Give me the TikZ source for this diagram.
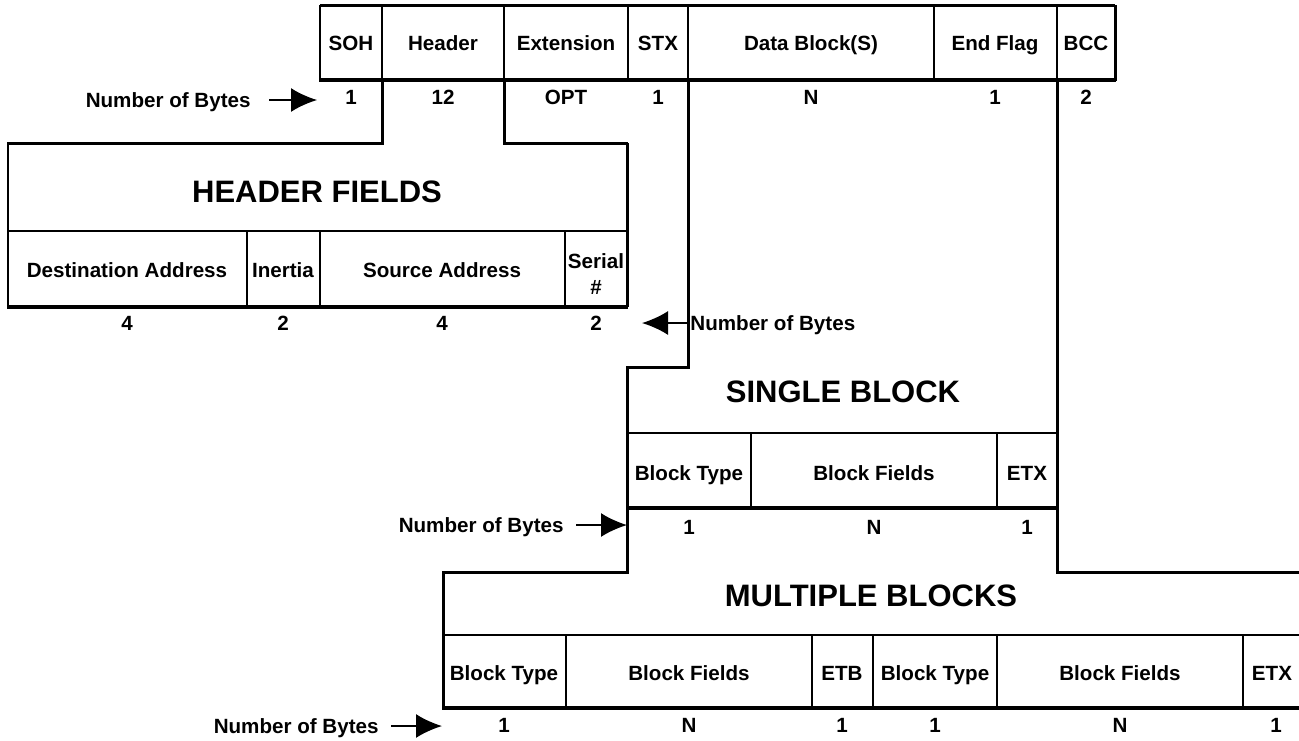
\documentclass[tikz,border=0pt]{standalone}
\usepackage{fontspec}
\setmainfont{Liberation Sans}
\usetikzlibrary{arrows.meta}
\tikzset{lbl/.style = {font=\fontsize{10.3}{13}\selectfont\bfseries, inner sep=1pt, text height=0.72em, text depth=0pt}}
\tikzset{ttl/.style = {font=\fontsize{15.5}{18}\selectfont\bfseries, inner sep=0pt}}
\tikzset{fieldline/.style = {line width=1pt}}
\tikzset{frameline/.style = {line width=1.5pt}}
\tikzset{heavy/.style = {line width=2pt}}
\tikzset{bytesarrow/.style = {line width=1pt, -{Latex[length=13pt,width=12pt]}}}

\begin{document}
\begin{tikzpicture}[x=0.5pt,y=-0.5pt]
\useasboundingbox (0,0) rectangle (1299,740);

% message frame
\draw[frameline] (320,5) -- (1115,5);
\draw[fieldline] (320,5) -- (320,80);
\foreach \x in {382,504,628,688,934,1057}
  \draw[fieldline] (\x,5) -- (\x,80);
\draw[frameline] (1115,5) -- (1115,81);
\draw[heavy] (319,80) -- (1116,80);

\node[lbl] (soh) at (351,43) {SOH};
\node[lbl] (hdr) at (443,43) {Header};
\node[lbl] (ext) at (566,43) {Extension};
\node[lbl] (stx) at (658,43) {STX};
\node[lbl] (data) at (811,43) {Data Block(S)};
\node[lbl] (endflag) at (995,43) {End Flag};
\node[lbl] (bcc) at (1086,43) {BCC};

\node[lbl] at (351,97) {1};
\node[lbl] at (443,97) {12};
\node[lbl] at (566,97) {OPT};
\node[lbl] at (658,97) {1};
\node[lbl] at (811,97) {N};
\node[lbl] at (995,97) {1};
\node[lbl] at (1086,97) {2};

% steps between the frames
\draw[frameline] (382,80) -- (382,143) -- (7,143);
\draw[frameline] (504,80) -- (504,143) -- (628,143);
\draw[frameline] (688,80) -- (688,367) -- (627,367) -- (627,572) -- (442,572);
\draw[frameline] (1057,80) -- (1057,572) -- (1299,572);

% header fields
\draw[fieldline] (8,143) -- (8,307);
\draw[frameline] (627,143) -- (627,307);
\draw[fieldline] (8,231) -- (627,231);
\foreach \x in {247,320,565}
  \draw[fieldline] (\x,231) -- (\x,307);
\draw[heavy] (7,307) -- (628,307);

\node[ttl] (hfields) at (317,192) {HEADER FIELDS};
\node[lbl] (dest) at (127,270) {Destination Address};
\node[lbl] (inertia) at (283,270) {Inertia};
\node[lbl] (src) at (442,270) {Source Address};
\node[font=\fontsize{10.3}{13}\selectfont\bfseries, inner sep=0pt, align=center] (serial) at (596,274) {Serial\\\#};

\node[lbl] at (127,323) {4};
\node[lbl] at (283,323) {2};
\node[lbl] at (442,323) {4};
\node[lbl] at (596,323) {2};

% single block
\draw[fieldline] (627,433) -- (1057,433);
\foreach \x in {751,997}
  \draw[fieldline] (\x,433) -- (\x,508);
\draw[heavy] (626,508) -- (1058,508);

\node[ttl] (single) at (843,392) {SINGLE BLOCK};
\node[lbl] (stype) at (689,473) {Block Type};
\node[lbl] (sfields) at (874,473) {Block Fields};
\node[lbl] (setx) at (1027,473) {ETX};

\node[lbl] at (689,527) {1};
\node[lbl] at (874,527) {N};
\node[lbl] at (1027,527) {1};

% multiple blocks
\draw[frameline] (443,572) -- (443,708);
\draw[fieldline] (443,635) -- (1299,635);
\foreach \x in {566,812,873,997,1243}
  \draw[fieldline] (\x,635) -- (\x,708);
\draw[heavy] (442,708) -- (1299,708);

\node[ttl] (multi) at (871,596) {MULTIPLE BLOCKS};
\node[lbl] (mtype1) at (504,673) {Block Type};
\node[lbl] (mfields1) at (689,673) {Block Fields};
\node[lbl] (metb) at (842,673) {ETB};
\node[lbl] (mtype2) at (935,673) {Block Type};
\node[lbl] (mfields2) at (1120,673) {Block Fields};
\node[lbl] (metx) at (1272,673) {ETX};

\node[lbl] at (504,725) {1};
\node[lbl] at (689,725) {N};
\node[lbl] at (842,725) {1};
\node[lbl] at (935,725) {1};
\node[lbl] at (1120,725) {N};
\node[lbl] at (1276,725) {1};

% byte count pointers
\node[lbl, anchor=east] (nbtop) at (253,100) {Number of Bytes};
\coordinate (nbtoptip) at (317,100);
\draw[bytesarrow, shorten <=8pt] (nbtop) -- (nbtoptip);

\node[lbl, anchor=west] (nbhdr) at (688,323) {Number of Bytes};
\coordinate (nbhdrtip) at (642,323);
\draw[bytesarrow] (nbhdr) -- (nbhdrtip);

\node[lbl, anchor=east] (nbsingle) at (566,525) {Number of Bytes};
\coordinate (nbsingletip) at (627,525);
\draw[bytesarrow, shorten <=5pt] (nbsingle) -- (nbsingletip);

\node[lbl, anchor=east] (nbmulti) at (381,726) {Number of Bytes};
\coordinate (nbmultitip) at (442,726);
\draw[bytesarrow, shorten <=5pt] (nbmulti) -- (nbmultitip);

\end{tikzpicture}
\end{document}
